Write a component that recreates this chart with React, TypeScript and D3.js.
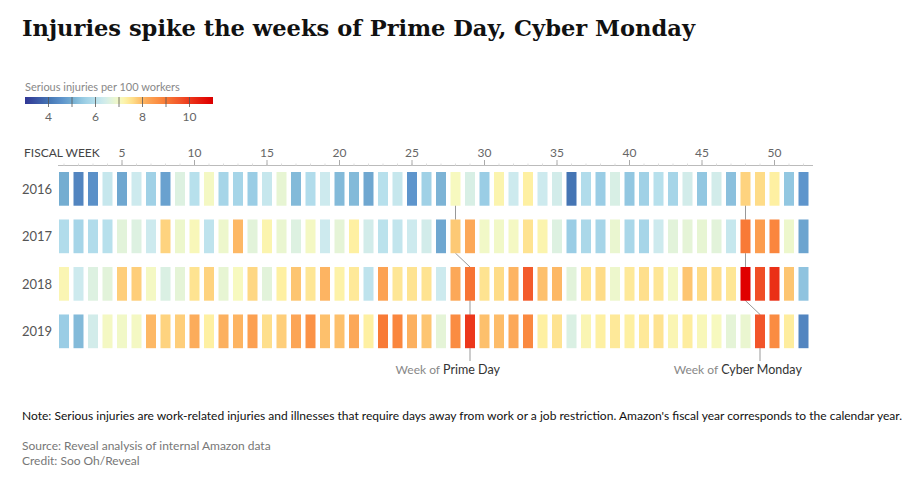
import React, { useEffect, useRef } from "react";
import * as d3 from "d3";

const weeks = d3.range(1, 53);
const years = ["2016", "2017", "2018", "2019"];

const values2016 = [
  5.0, 4.3, 4.5, 6.2, 4.9, 6.3, 5.6, 4.8, 6.6, 6.0, 7.0, 5.7, 5.7, 5.5, 6.2, 6.8, 5.2, 5.9, 6.3, 5.2, 5.2, 4.9, 6.0, 6.2, 4.6,
  5.6, 5.1, 7.05, 6.5, 5.5, 7.2, 6.3, 7.3, 6.3, 6.4, 4.0, 5.9, 5.5, 6.5, 5.4, 5.6, 6.0, 5.7, 6.4, 5.4, 6.4, 5.3, 7.7, 7.6, 7.3, 5.4, 4.6,
];
const values2017 = [
  5.9, 5.7, 5.9, 6.0, 6.7, 6.6, 6.3, 7.7, 6.9, 7.1, 6.1, 6.9, 8.0, 6.7, 7.2, 6.85, 6.6, 7.0, 6.3, 6.75, 7.3, 6.4, 6.05, 6.15, 6.3,
  6.4, 4.9, 7.8, 8.2, 6.95, 6.95, 7.0, 7.5, 7.2, 6.6, 5.5, 5.8, 5.7, 6.85, 5.75, 5.7, 6.3, 6.7, 6.75, 6.8, 6.7, 6.2, 9.0, 8.4, 8.8, 6.9, 4.85,
];
const values2018 = [
  7.15, 6.3, 6.6, 6.7, 7.75, 7.75, 7.0, 6.55, 6.75, 7.5, 7.7, 6.8, 7.05, 7.65, 6.7, 7.3, 7.85, 7.45, 8.05, 7.25, 7.4, 6.1, 8.3, 7.45, 7.5,
  7.5, 6.3, 8.2, 9.1, 7.5, 7.6, 8.05, 9.5, 7.9, 8.0, 6.7, 7.45, 7.6, 6.9, 7.4, 7.55, 7.45, 7.0, 7.85, 7.6, 7.55, 7.45, 10.9, 9.7, 10.1, 7.85, 5.35,
];
const values2019 = [
  5.5, 5.2, 6.4, 7.0, 6.95, 7.0, 8.0, 7.7, 7.75, 8.15, 7.3, 8.1, 8.05, 8.35, 7.55, 7.75, 8.25, 8.6, 7.9, 7.9, 8.2, 7.3, 9.0, 8.8, 8.1,
  7.85, 6.75, 8.7, 10.0, 7.9, 7.95, 8.2, 8.75, 7.3, 7.5, 6.55, 7.15, 7.3, 7.4, 7.3, 7.4, 7.5, 7.15, 7.35, 7.1, 7.05, 6.75, 6.85, 9.6, 8.7, 7.35, 4.3,
];
const seriesValues = [values2016, values2017, values2018, values2019];

const axisTicks = [5, 10, 15, 20, 25, 30, 35, 40, 45, 50];
const legendLabelTicks = [4, 6, 8, 10];
const legendMarkTicks = [4, 5, 6, 7, 8, 9, 10];
const legendDomain = [3, 11];

const primeDayWeeks = [28, 28, 29, 29];
const cyberMondayWeeks = [48, 48, 48, 49];

const colorStops = [3.0, 4.0, 4.6, 5.0, 5.5, 6.0, 6.3, 6.6, 6.85, 7.05, 7.3, 7.6, 7.9, 8.2, 8.6, 9.0, 9.6, 10.1, 10.9, 11.2];
const colorRange = [
  "#313695", "#4575b4", "#5e95cc", "#74add1", "#9acde5", "#b7e0ec", "#cdeaee", "#ddf1e1", "#eaf6d0", "#f7f9bf",
  "#fef0a2", "#fedc88", "#fdc06c", "#fca858", "#fb9246", "#f87a36", "#f2552a", "#ea3017", "#e00000", "#cc0000",
];

const SANS = "Lato, 'Open Sans', sans-serif";

export default function App() {
  const ref = useRef<SVGSVGElement>(null);

  useEffect(() => {
    const svg = d3.select(ref.current);
    svg.selectAll("*").remove();

    const color = d3.scaleLinear<string>().domain(colorStops).range(colorRange).clamp(true);
    const x = d3.scaleLinear().domain([1, 52]).range([64, 803.5]);
    const y = d3.scaleBand<string>().domain(years).range([172, 348.2]).paddingInner(0.29).paddingOuter(0);
    const barW = 10;

    // Title
    svg.append("text")
      .attr("x", 22).attr("y", 36)
      .attr("font-family", "'DejaVu Serif', serif")
      .attr("font-weight", "bold")
      .attr("font-size", 23)
      .attr("fill", "#111")
      .attr("textLength", 673)
      .attr("lengthAdjust", "spacingAndGlyphs")
      .text("Injuries spike the weeks of Prime Day, Cyber Monday");

    // Legend
    const lx = d3.scaleLinear().domain(legendDomain).range([25, 213]);
    svg.append("text")
      .attr("x", 25).attr("y", 91)
      .attr("font-family", SANS).attr("font-size", 11).attr("fill", "#888")
      .text("Serious injuries per 100 workers");
    const defs = svg.append("defs");
    const grad = defs.append("linearGradient").attr("id", "lg").attr("x1", "0%").attr("x2", "100%");
    d3.range(0, 41).forEach((i) => {
      const v = legendDomain[0] + (i / 40) * (legendDomain[1] - legendDomain[0]);
      grad.append("stop").attr("offset", `${(i / 40) * 100}%`).attr("stop-color", color(v));
    });
    svg.append("rect")
      .attr("x", lx(legendDomain[0])).attr("y", 97)
      .attr("width", lx(legendDomain[1]) - lx(legendDomain[0])).attr("height", 7)
      .attr("fill", "url(#lg)");
    svg.append("g").selectAll("line").data(legendMarkTicks).join("line")
      .attr("x1", (d) => lx(d)).attr("x2", (d) => lx(d))
      .attr("y1", 97).attr("y2", 107)
      .attr("stroke", "#555").attr("stroke-width", 0.8);
    svg.append("g").selectAll("text").data(legendLabelTicks).join("text")
      .attr("x", (d) => lx(d)).attr("y", 121)
      .attr("text-anchor", "middle")
      .attr("font-family", SANS).attr("font-size", 12).attr("fill", "#666")
      .text((d) => d);

    // Axis
    svg.append("text")
      .attr("x", 24).attr("y", 157)
      .attr("font-family", SANS).attr("font-size", 12).attr("fill", "#444")
      .text("FISCAL WEEK");
    svg.append("line")
      .attr("x1", 58).attr("x2", 813).attr("y1", 165.5).attr("y2", 165.5)
      .attr("stroke", "#bbb").attr("stroke-width", 1);
    svg.append("g").selectAll("line").data(weeks).join("line")
      .attr("x1", (d) => x(d)).attr("x2", (d) => x(d))
      .attr("y1", 163.5).attr("y2", 165.5)
      .attr("stroke", "#ddd");
    svg.append("g").selectAll("line").data(axisTicks).join("line")
      .attr("x1", (d) => x(d)).attr("x2", (d) => x(d))
      .attr("y1", 160).attr("y2", 165.5)
      .attr("stroke", "#aaa");
    svg.append("g").selectAll("text").data(axisTicks).join("text")
      .attr("x", (d) => x(d)).attr("y", 157)
      .attr("text-anchor", "middle")
      .attr("font-family", SANS).attr("font-size", 12).attr("fill", "#666")
      .text((d) => d);

    // Annotation paths (behind bars)
    const bw = y.bandwidth();
    const annoPath = (wk: number[], endY: number) => {
      const pts: [number, number][] = [];
      years.forEach((yr, i) => {
        const top = y(yr)!;
        pts.push([x(wk[i]), top]);
        pts.push([x(wk[i]), top + bw]);
      });
      pts.push([x(wk[wk.length - 1]), endY]);
      return d3.line()(pts);
    };
    [primeDayWeeks, cyberMondayWeeks].forEach((wk) => {
      svg.append("path")
        .attr("d", annoPath(wk, 361))
        .attr("fill", "none").attr("stroke", "#999").attr("stroke-width", 1);
    });

    // Rows
    years.forEach((yr, i) => {
      svg.append("text")
        .attr("x", 22).attr("y", y(yr)! + bw / 2 + 5)
        .attr("font-family", SANS).attr("font-size", 13).attr("fill", "#555")
        .text(yr);
      svg.append("g").selectAll("rect").data(seriesValues[i]).join("rect")
        .attr("x", (_d, j) => x(weeks[j]) - barW / 2)
        .attr("y", y(yr)!)
        .attr("width", barW)
        .attr("height", bw)
        .attr("fill", (d) => color(d));
    });

    // Annotation labels
    const label = (wk: number, name: string) => {
      const cx = x(wk) + 1.5;
      const t = svg.append("text")
        .attr("x", cx).attr("y", 374)
        .attr("text-anchor", "middle")
        .attr("font-family", SANS).attr("font-size", 12.5).attr("fill", "#333")
        .text(name);
      const w = (t.node() as SVGTextElement).getComputedTextLength();
      svg.append("text")
        .attr("x", cx - w / 2 - 3).attr("y", 374)
        .attr("text-anchor", "end")
        .attr("font-family", SANS).attr("font-size", 12).attr("fill", "#888")
        .text("Week of");
    };
    label(primeDayWeeks[3], "Prime Day");
    label(cyberMondayWeeks[3], "Cyber Monday");

    // Footer
    svg.append("text")
      .attr("x", 22).attr("y", 420)
      .attr("font-family", SANS).attr("font-size", 12).attr("fill", "#111")
      .attr("textLength", 880).attr("lengthAdjust", "spacingAndGlyphs")
      .text("Note: Serious injuries are work-related injuries and illnesses that require days away from work or a job restriction. Amazon's fiscal year corresponds to the calendar year.");
    svg.append("text")
      .attr("x", 22).attr("y", 450)
      .attr("font-family", SANS).attr("font-size", 12).attr("fill", "#777")
      .text("Source: Reveal analysis of internal Amazon data");
    svg.append("text")
      .attr("x", 22).attr("y", 465)
      .attr("font-family", SANS).attr("font-size", 12).attr("fill", "#777")
      .text("Credit: Soo Oh/Reveal");
  }, []);

  return (
    <svg
      ref={ref}
      width={912}
      height={484}
      style={{ position: "absolute", left: 0, top: 0, background: "#fff" }}
    />
  );
}
